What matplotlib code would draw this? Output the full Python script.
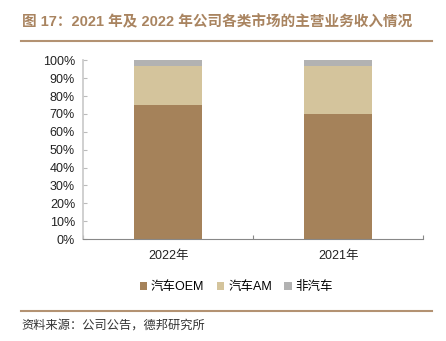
import matplotlib
matplotlib.use("Agg")
import matplotlib.pyplot as plt
from matplotlib.lines import Line2D
import numpy as np

plt.rcParams['font.family'] = ['Liberation Sans', 'Noto Sans CJK SC', 'DejaVu Sans']

# 数据
years = ["2022年", "2021年"]
oem = [75.1, 70.0]
am = [22.0, 27.1]
non_auto = [2.9, 2.9]
series_names = ["汽车OEM", "汽车AM", "非汽车"]
colors = ["#A5825A", "#D4C49C", "#B2B2B2"]
yticks = [0, 10, 20, 30, 40, 50, 60, 70, 80, 90, 100]

fig = plt.figure(figsize=(4.46, 3.41), dpi=100)
ax = fig.add_axes([0.187, 0.299, 0.762, 0.524])

x = np.arange(len(years))
bottom = np.zeros(len(years))
handles = []
for vals, name, c in zip([oem, am, non_auto], series_names, colors):
    b = ax.bar(x, vals, width=0.4, bottom=bottom, color=c, label=name)
    bottom += np.array(vals)
    handles.append(b)

ax.set_xlim(-0.5, 1.5)
ax.set_ylim(0, 100)
ax.set_yticks(yticks)
ax.set_yticklabels([f"{v}%" for v in yticks], fontsize=9, color="#222222")
ax.set_xticks([-0.5, 0.5, 1.5], minor=False)
ax.set_xticklabels(["", "", ""])
ax.set_xticks(x, minor=True)
ax.set_xticklabels(years, minor=True, fontsize=9, color="#222222",
                   family=['Liberation Sans', 'Noto Sans CJK SC'])
ax.tick_params(axis="x", which="minor", length=0, pad=8)
ax.tick_params(axis="x", which="major", direction="in", length=3, color="#888888")
ax.tick_params(axis="y", direction="in", length=3, color="#BBBBBB", pad=6)

for s in ["top", "right"]:
    ax.spines[s].set_visible(False)
ax.spines["left"].set_color("#C8C8C8")
ax.spines["left"].set_linewidth(1.2)
ax.spines["bottom"].set_color("#888888")
ax.spines["bottom"].set_linewidth(0.8)

leg = fig.legend(handles=handles, labels=series_names, loc="center",
                 bbox_to_anchor=(0.53, 0.158), ncol=3, frameon=False,
                 handlelength=0.6, handleheight=0.6,
                 handletextpad=0.3, columnspacing=1.0,
                 prop={'family': ['Liberation Sans', 'Noto Sans CJK SC'], 'size': 9})

# 标题与分隔线
fig.text(0.049, 0.935, "图 17：2021 年及 2022 年公司各类市场的主营业务收入情况",
         fontsize=10.5, fontweight="bold", color="#A98460",
         family=['Liberation Sans', 'Noto Sans CJK SC'], va="center", ha="left")
fig.add_artist(Line2D([0.047, 0.969], [0.879, 0.879], color="#B39272", lw=1.5))
fig.add_artist(Line2D([0.047, 0.969], [0.089, 0.089], color="#B39272", lw=1.5))
fig.text(0.049, 0.047, "资料来源：公司公告，德邦研究所", fontsize=8.8, color="#333333",
         family=['Noto Sans CJK SC', 'DejaVu Sans'], va="center", ha="left")

fig.savefig("out.png", dpi=100, facecolor="white")
